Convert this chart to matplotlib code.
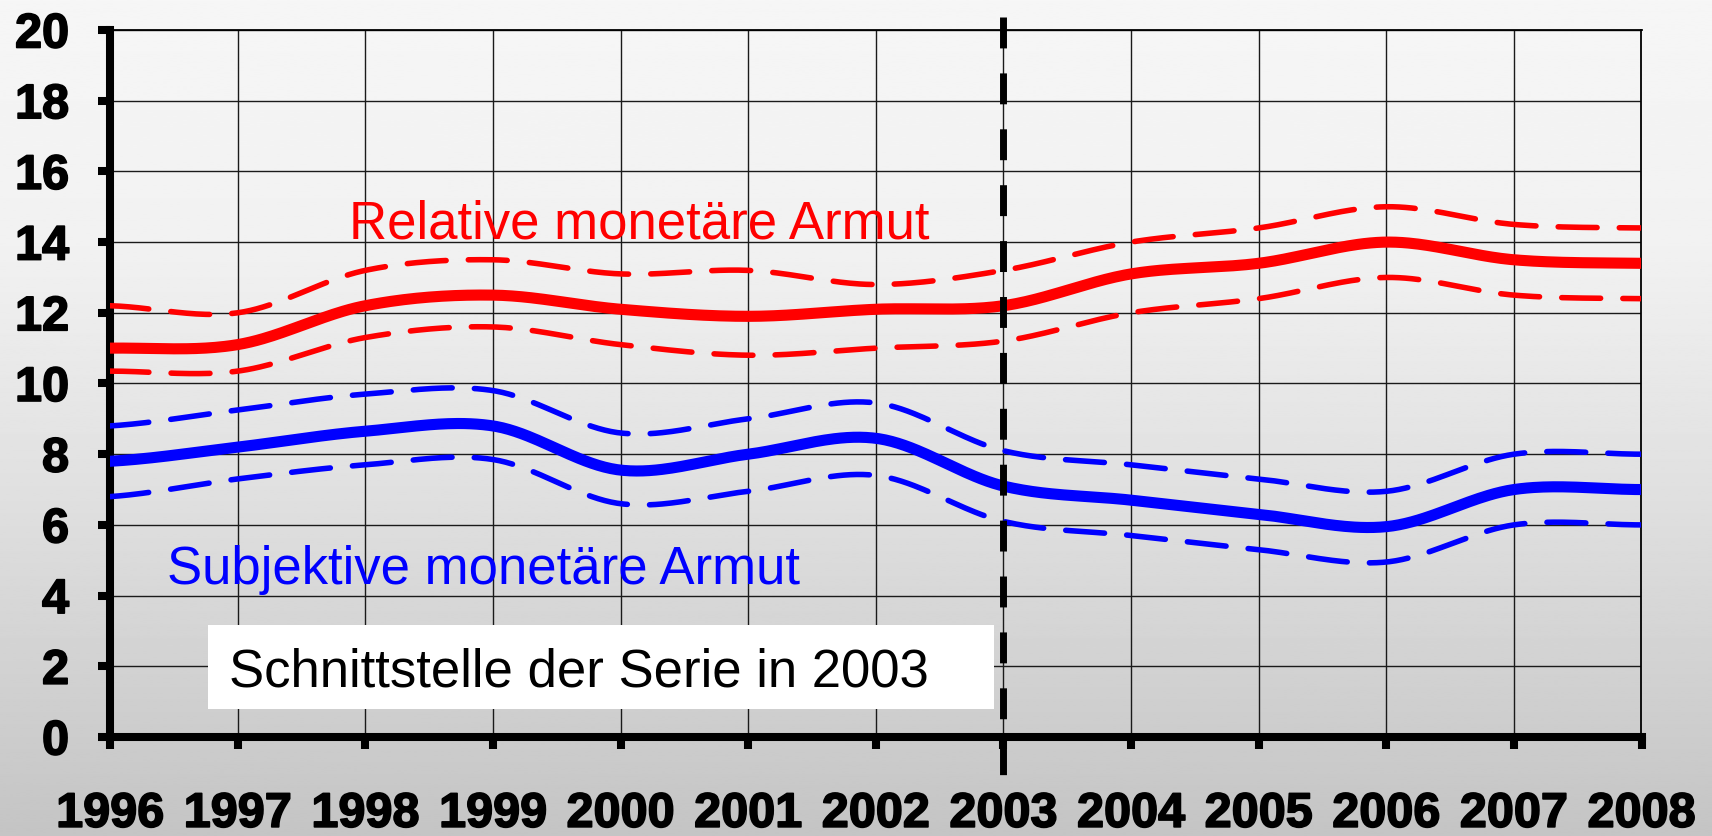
import numpy as np
import matplotlib
matplotlib.use("Agg")
import matplotlib.pyplot as plt
from matplotlib.patches import Rectangle
import matplotlib.patheffects as pe

# ---- data ----
years = [1996, 1997, 1998, 1999, 2000, 2001, 2002, 2003, 2004, 2005, 2006, 2007, 2008]
rel = [11.0, 11.1, 12.2, 12.5, 12.1, 11.9, 12.1, 12.2, 13.1, 13.4, 14.0, 13.5, 13.4]
rel_hi = [12.2, 12.0, 13.2, 13.5, 13.1, 13.2, 12.8, 13.2, 14.0, 14.4, 15.0, 14.5, 14.4]
rel_lo = [10.35, 10.35, 11.3, 11.6, 11.1, 10.8, 11.0, 11.2, 12.0, 12.4, 13.0, 12.5, 12.4]
subj = [7.8, 8.2, 8.65, 8.8, 7.55, 8.0, 8.45, 7.1, 6.7, 6.3, 5.95, 7.0, 7.0]
subj_hi = [8.8, 9.25, 9.7, 9.8, 8.6, 9.0, 9.45, 8.1, 7.7, 7.3, 6.95, 8.0, 8.0]
subj_lo = [6.8, 7.3, 7.7, 7.85, 6.6, 6.95, 7.4, 6.1, 5.7, 5.3, 4.95, 6.0, 6.0]
yticks = [0, 2, 4, 6, 8, 10, 12, 14, 16, 18, 20]
break_year = 2003
label_rel = "Relative monetäre Armut"
label_subj = "Subjektive monetäre Armut"
label_break = "Schnittstelle der Serie in 2003"


def smooth(x, y, n=40):
    """Catmull-Rom style smoothing of a polyline (like Excel smoothed lines)."""
    x = np.asarray(x, float)
    y = np.asarray(y, float)
    m = len(x)
    tang = np.zeros(m)
    for i in range(m):
        a = y[max(i - 1, 0)]
        b = y[min(i + 1, m - 1)]
        tang[i] = (b - a) / 2.0
    xs, ys = [], []
    for i in range(m - 1):
        t = np.linspace(0, 1, n, endpoint=(i == m - 2))
        h00 = 2 * t**3 - 3 * t**2 + 1
        h10 = t**3 - 2 * t**2 + t
        h01 = -2 * t**3 + 3 * t**2
        h11 = t**3 - t**2
        ys.append(h00 * y[i] + h10 * tang[i] + h01 * y[i + 1] + h11 * tang[i + 1])
        xs.append(x[i] + t * (x[i + 1] - x[i]))
    return np.concatenate(xs), np.concatenate(ys)


W, H = 1712, 836
fig = plt.figure(figsize=(W / 100, H / 100), dpi=100)

# background gradient
bg = fig.add_axes([0, 0, 1, 1], zorder=-10)
fy = np.linspace(0, 1, 400)
vals = np.interp(fy, [0, 0.3, 0.6, 1.0], [0.965, 0.945, 0.875, 0.77])
bg.imshow(np.tile(vals[:, None], (1, 2)), cmap="gray", vmin=0, vmax=1,
          aspect="auto", extent=[0, 1, 0, 1], origin="upper")
bg.set_axis_off()

left, right, top, bottom = 110, 1641.5, 30, 737
ax = fig.add_axes([left / W, 1 - bottom / H, (right - left) / W, (bottom - top) / H])
ax.patch.set_alpha(0)
ax.set_xlim(years[0], years[-1])
ax.set_ylim(yticks[0], yticks[-1])
ax.set_xticks(years)
ax.set_yticks(yticks)
ax.set_axisbelow(True)
ax.grid(True, color="#1a1a1a", lw=1.0)

for s in ["left", "bottom"]:
    ax.spines[s].set_linewidth(5.8)
for s in ["top", "right"]:
    ax.spines[s].set_linewidth(1.3)
ax.tick_params(axis="both", direction="out", length=8.5, width=5.8, color="black")
ax.tick_params(axis="y", pad=21)
ax.tick_params(axis="x", pad=31)
for lab in ax.get_xticklabels() + ax.get_yticklabels():
    lab.set_fontfamily("Liberation Sans")
    lab.set_fontweight("bold")
    lab.set_fontsize(35)
    lab.set_path_effects([pe.withStroke(linewidth=1.2, foreground="black")])

red = "#ff0000"
blue = "#0000ff"
for series, col in [(rel, red), (subj, blue)]:
    sx, sy = smooth(years, series)
    ax.plot(sx, sy, color=col, lw=8.0, solid_capstyle="round", zorder=4)
for series, col in [(rel_hi, red), (rel_lo, red), (subj_hi, blue), (subj_lo, blue)]:
    sx, sy = smooth(years, series)
    ax.plot(sx, sy, color=col, lw=4.0, dashes=(7, 4), dash_capstyle="round", zorder=4)

# white box with break note
ax.add_patch(Rectangle((1996.77, 0.79), 6.16, 2.38, facecolor="white",
                       edgecolor="none", zorder=2))
ax.text(1996.93, 1.44, label_break, fontsize=38, family="Liberation Sans",
        color="black", va="baseline", ha="left", zorder=5)

ax.text(1997.87, 14.09, label_rel, fontsize=38, family="Liberation Sans",
        color=red, va="baseline", ha="left", zorder=5)
ax.text(1996.45, 4.34, label_subj, fontsize=38, family="Liberation Sans",
        color=blue, va="baseline", ha="left", zorder=5)

# dashed break line
ax.plot([break_year, break_year], [20.38, -1.12], color="black", lw=5.0,
        dashes=(4.45, 3.6), solid_capstyle="butt", clip_on=False, zorder=6)

fig.savefig("out.png", dpi=100)
